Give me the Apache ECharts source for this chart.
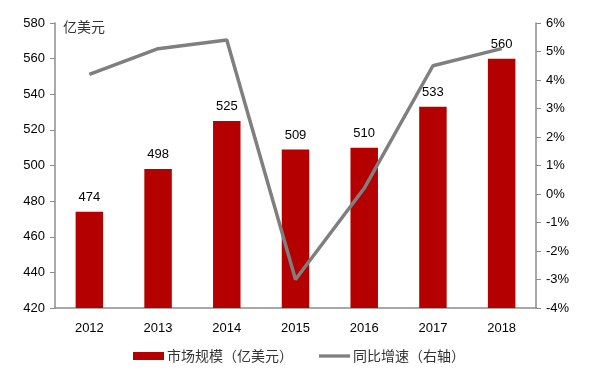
<!DOCTYPE html>
<html><head><meta charset="utf-8">
<script src="https://cdn.jsdelivr.net/npm/echarts@6/dist/echarts.min.js"></script>
<style>html,body{margin:0;padding:0;background:#fff}#c{width:594px;height:390px}</style>
</head><body><div id="c"></div>
<script>
const categories = ['2012','2013','2014','2015','2016','2017','2018'];
const marketSize = [474, 498, 525, 509, 510, 533, 560];
const growth = [4.2, 5.1, 5.4, -3.0, 0.2, 4.5, 5.1];
const chart = echarts.init(document.getElementById('c'));
const axisFont = {fontFamily:'Liberation Sans, Arial, sans-serif', fontSize:13, color:'#000'};
chart.setOption({
  animation:false,
  grid:{left:55, right:58, top:23, bottom:82},
  legend:{
    bottom:22, left:128, itemGap:26, itemWidth:31, itemHeight:8,
    textStyle:{fontFamily:'Noto Sans CJK SC', fontSize:14, color:'#333', padding:[0,0,0,-2]},
    data:[{name:'市场规模（亿美元）', icon:'rect'}, {name:'同比增速（右轴）', icon:'path://M0,0H30V3.2H0Z'}]
  },
  graphic:[{type:'text', left:63, top:20, style:{text:'亿美元', font:'14px "Noto Sans CJK SC"', fill:'#333'}}],
  xAxis:{type:'category', data:categories,
    axisLine:{onZero:false, lineStyle:{color:'#8c8c8c', width:1.5}}, axisTick:{show:false},
    axisLabel:{...axisFont, margin:14}},
  yAxis:[
    {type:'value', min:420, max:580, interval:20, position:'left',
     axisLine:{show:true, lineStyle:{color:'#8c8c8c', width:1.5}},
     axisTick:{show:true, inside:false, length:5, lineStyle:{color:'#8c8c8c'}},
     splitLine:{show:false}, axisLabel:{...axisFont, margin:10}},
    {type:'value', min:-4, max:6, interval:1, position:'right',
     axisLine:{show:true, lineStyle:{color:'#8c8c8c', width:1.5}},
     axisTick:{show:true, inside:false, length:5, lineStyle:{color:'#8c8c8c'}},
     splitLine:{show:false}, axisLabel:{...axisFont, margin:10, formatter:'{value}%'}}
  ],
  series:[
    {name:'市场规模（亿美元）', type:'bar', data:marketSize, barWidth:'40%',
     itemStyle:{color:'#b50000'},
     label:{show:true, position:'top', distance:8, fontFamily:'Liberation Sans, Arial, sans-serif', fontSize:13, color:'#000'}},
    {name:'同比增速（右轴）', type:'line', yAxisIndex:1, data:growth,
     symbol:'none', lineStyle:{color:'#7f7f7f', width:3.5}, itemStyle:{color:'#7f7f7f'}, z:3}
  ]
});
</script></body></html>
